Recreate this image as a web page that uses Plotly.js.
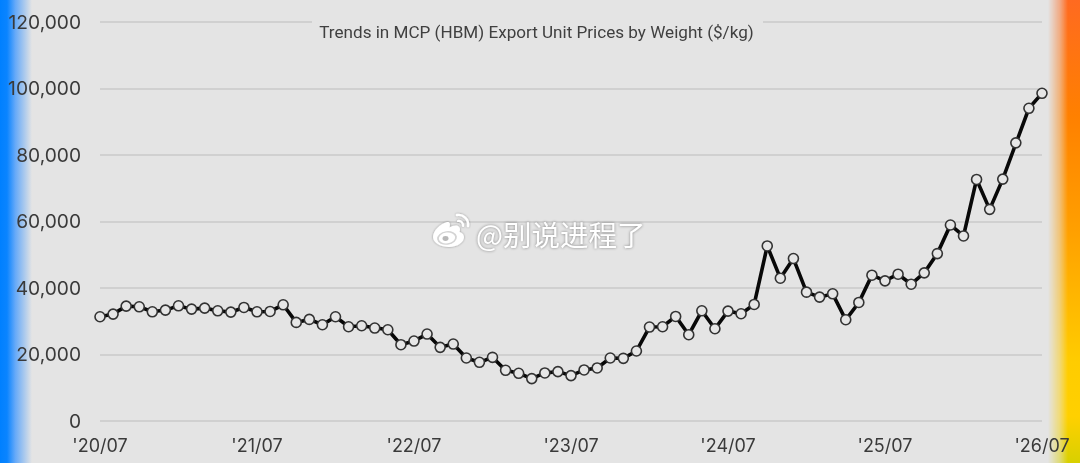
<!DOCTYPE html>
<html><head><meta charset="utf-8">
<script src="https://cdn.plot.ly/plotly-3.0.1.min.js"></script>
<style>
html,body{margin:0;padding:0;width:1080px;height:463px;overflow:hidden;background:#e4e4e4;}
#left{position:absolute;left:0;top:0;width:32px;height:463px;background:linear-gradient(to right,#0080ff 0,#0a84ff 22%,rgba(60,150,255,.75) 48%,rgba(228,228,228,0) 100%);}
#right{position:absolute;right:0;top:0;width:32px;height:463px;background:linear-gradient(to bottom,#ff6a20 0,#ff8000 25%,#ffa000 50%,#ffcc00 78%,#ffd000 90%,#d8d000 100%);
-webkit-mask-image:linear-gradient(to right,transparent 0,rgba(0,0,0,.5) 38%,#000 62%);mask-image:linear-gradient(to right,transparent 0,rgba(0,0,0,.5) 38%,#000 62%);}
#chart{position:absolute;left:0;top:0;width:1080px;height:463px;filter:blur(0.55px);}
</style></head><body>
<div id="left"></div><div id="right"></div><div id="chart"></div>
<script>
var tickValues=[0,12,24,36,48,60,72];
var tickLabels=["'20/07","'21/07","'22/07","'23/07","'24/07","'25/07","'26/07"];
var yTicks=[0,20000,40000,60000,80000,100000,120000];
var months=[0,1,2,3,4,5,6,7,8,9,10,11,12,13,14,15,16,17,18,19,20,21,22,23,24,25,26,27,28,29,30,31,32,33,34,35,36,37,38,39,40,41,42,43,44,45,46,47,48,49,50,51,52,53,54,55,56,57,58,59,60,61,62,63,64,65,66,67,68,69,70,71,72];
var prices=[31350,32150,34550,34350,32850,33350,34650,33650,33950,33150,32750,34150,32850,32950,34950,29650,30550,28950,31350,28350,28650,27950,27450,22950,24050,26150,22150,23150,18950,17650,19150,15250,14350,12750,14450,14850,13650,15350,15950,18950,18850,21050,28250,28350,31450,25950,33150,27750,33050,32250,35050,52650,42950,48850,38750,37250,38250,30450,35650,43850,42150,44150,41150,44550,50350,58950,55650,72650,63650,72750,83650,94050,98550];
var titleText="Trends in MCP (HBM) Export Unit Prices by Weight ($/kg)";
var watermark="@别说进程了";

var logoSvg='<svg xmlns="http://www.w3.org/2000/svg" viewBox="0 0 40 38" width="80" height="76">'+
 '<defs><filter id="s" x="-20%" y="-20%" width="140%" height="140%"><feDropShadow dx="0" dy="0" stdDeviation="0.9" flood-color="#000" flood-opacity="0.4"/></filter></defs>'+
 '<g filter="url(#s)">'+
 '<path d="M16 11 C9 13 2 20 2 26 C2 32 10 36 18 36 C27 36 33 31 33 26 C33 23 30 21.5 28.5 21 C29.5 18 29 16 27 15 C24.5 14 21 15 18.5 16.5 C19.5 13 19 10.5 16 11 Z" fill="#fff"/>'+
 '<ellipse cx="16" cy="27" rx="10" ry="6.8" transform="rotate(-8 16 27)" fill="#d4d4d4"/>'+
 '<ellipse cx="16" cy="27" rx="8.2" ry="5.4" transform="rotate(-8 16 27)" fill="#fff"/>'+
 '<ellipse cx="14.5" cy="27.5" rx="3" ry="2.5" fill="#b8b8b8"/>'+
 '<path d="M26 4 C32 3 38 8 37 15" fill="none" stroke="#fff" stroke-width="2.4" stroke-linecap="round"/>'+
 '<path d="M27 10 C30 9.5 32.5 12 32 15" fill="none" stroke="#fff" stroke-width="2.2" stroke-linecap="round"/>'+
 '</g></svg>';

var plotW=942, plotH=404, plotB=423.5;
var trace={x:months,y:prices,type:'scatter',mode:'lines+markers',cliponaxis:false,
  line:{color:'#080808',width:3.6},
  marker:{size:10,color:'#e6e6e6',line:{color:'#333333',width:1.6}},hoverinfo:'x+y'};
var layout={width:1080,height:463,paper_bgcolor:'rgba(0,0,0,0)',plot_bgcolor:'rgba(0,0,0,0)',showlegend:false,
  margin:{l:100,r:38,t:19.5,b:39.5,pad:0},
  title:{text:titleText,font:{family:'Roboto',size:17.1,color:'#404040'},x:536.5/1080,xanchor:'center',y:1-32/463,yanchor:'middle'},
  xaxis:{range:[0,72],tickmode:'array',tickvals:tickValues,ticktext:tickLabels,showgrid:false,zeroline:false,showline:false,ticks:'',
    tickfont:{family:'Inter',size:18,color:'#3a3a3a'},ticklabelstandoff:10,automargin:false},
  yaxis:{range:[-600,120600],tickmode:'array',tickvals:yTicks,ticktext:yTicks.map(function(v){return v.toLocaleString('en-US');}),
    showgrid:true,gridcolor:'#d0d0d0',gridwidth:2,zeroline:false,showline:false,ticks:'',
    tickfont:{family:'Inter',size:19.2,color:'#3a3a3a'},ticklabelstandoff:18,automargin:false},
  shapes:[{type:'rect',xref:'paper',yref:'paper',x0:(312-100)/plotW,x1:(763-100)/plotW,y0:0.96,y1:1.02,fillcolor:'#e4e4e4',line:{width:0},layer:'above'}],
  images:[{source:'data:image/svg+xml;base64,'+btoa(logoSvg),xref:'paper',yref:'paper',
    x:(431-100)/plotW,y:(plotB-211)/plotH,sizex:40/plotW,sizey:38/plotH,xanchor:'left',yanchor:'top',layer:'above',sizing:'stretch'}],
  annotations:[{xref:'paper',yref:'paper',x:(646.5-100)/plotW,y:(plotB-234)/plotH,xanchor:'right',yanchor:'middle',showarrow:false,text:watermark,
    font:{family:'Noto Sans CJK SC',size:28.5,color:'#ffffff',shadow:'0 0 3px rgba(0,0,0,0.45)'}}]
};
Plotly.newPlot('chart',[trace],layout,{displayModeBar:false,staticPlot:true});
</script></body></html>
